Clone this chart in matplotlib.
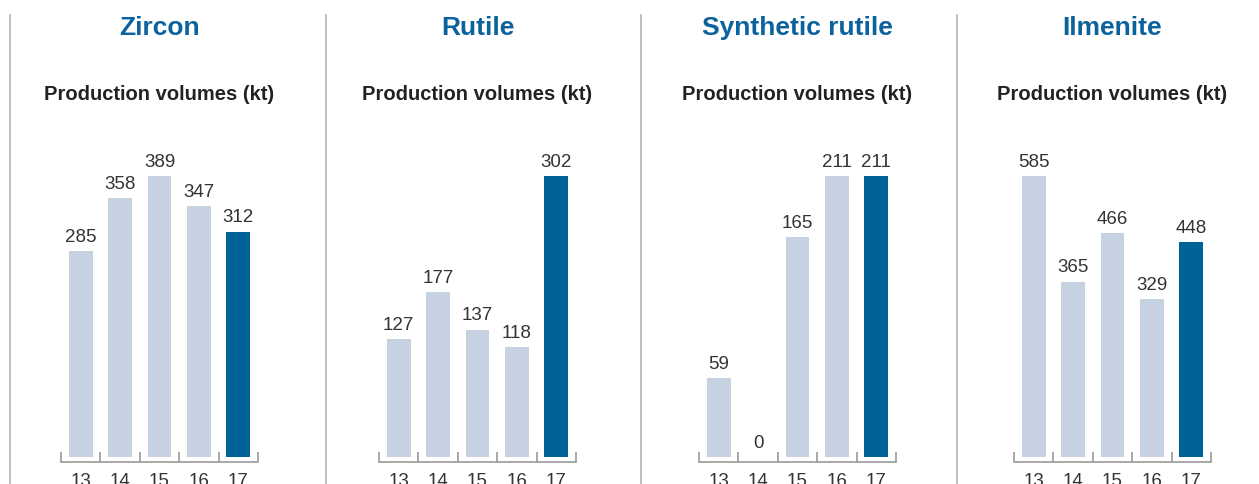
import matplotlib.pyplot as plt

# data
years = ["13", "14", "15", "16", "17"]
titles = ["Zircon", "Rutile", "Synthetic rutile", "Ilmenite"]
zircon = [285, 358, 389, 347, 312]
rutile = [127, 177, 137, 118, 302]
synthetic_rutile = [59, 0, 165, 211, 211]
ilmenite = [585, 365, 466, 329, 448]
series = [zircon, rutile, synthetic_rutile, ilmenite]

# style
light = "#c6d2e2"
dark = "#006398"
title_col = "#0b629c"
txt = "#333333"
grey = "#9a9a9a"
plt.rcParams['font.family'] = ['Liberation Sans', 'DejaVu Sans']

W, H = 1259, 485
fig = plt.figure(figsize=(W / 100, H / 100), dpi=100)

lefts = [61, 379, 699, 1014]   # pixel left of each small axis
dividers = [10, 326, 641, 957]
ax_w = 197
base_px = 463   # baseline (spine) pixel row from top
top_px = 177    # top of tallest bar
bar_bottom_px = 458

for d in dividers:
    fig.add_artist(plt.Line2D([d / W, d / W], [0, 1 - 16 / H], transform=fig.transFigure,
                              color="#b3b3b3", lw=1.2))

for i, vals in enumerate(series):
    vmax = max(vals)
    scale = vmax / (bar_bottom_px - top_px)
    ymin = -(base_px - bar_bottom_px) * scale
    ax = fig.add_axes([lefts[i] / W, 1 - base_px / H, ax_w / W, (base_px - top_px) / H])
    ax.set_xlim(0.5, 5.5)
    ax.set_ylim(ymin, vmax)
    xs = list(range(1, 6))
    colors = [light] * 4 + [dark]
    ax.bar(xs, vals, width=0.6, color=colors, zorder=2)
    for x, v in zip(xs, vals):
        ax.annotate(str(v), (x, v), xytext=(0, 4.5), textcoords="offset points",
                    ha="center", va="bottom", fontsize=13.5, color=txt, annotation_clip=False)
    for s in ["top", "right", "left"]:
        ax.spines[s].set_visible(False)
    ax.spines["bottom"].set_color(grey)
    ax.spines["bottom"].set_linewidth(1.2)
    ax.set_yticks([])
    ax.set_xticks([0.5, 1.5, 2.5, 3.5, 4.5, 5.5])
    ax.set_xticklabels([])
    ax.tick_params(axis="x", which="major", direction="in", length=7.5, width=1.2, color=grey)
    ax.set_xticks(xs, minor=True)
    ax.set_xticklabels(years, minor=True)
    ax.tick_params(axis="x", which="minor", length=0, pad=7, labelsize=13.5, labelcolor=txt)
    ax.patch.set_visible(False)

    cx = (lefts[i] + ax_w / 2) / W
    fig.text(cx, 1 - 28 / H, titles[i], ha="center", va="center", fontsize=19,
             fontweight="bold", color=title_col)
    fig.text(cx, 1 - 94 / H, "Production volumes (kt)", ha="center", va="center",
             fontsize=14.5, fontweight="bold", color="#222222")

fig.savefig("out.png", dpi=100)
